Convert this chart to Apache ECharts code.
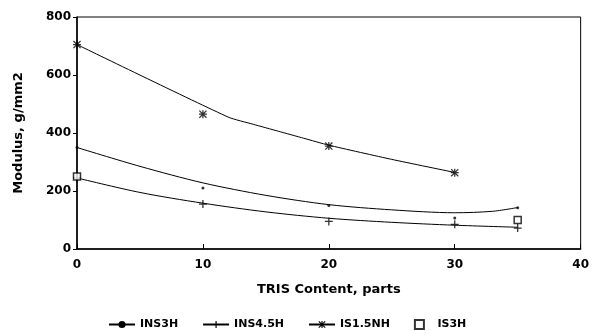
<!DOCTYPE html>
<html>
<head>
<meta charset="utf-8">
<script src="https://cdn.jsdelivr.net/npm/echarts@6/dist/echarts.min.js"></script>
<style>html,body{margin:0;padding:0;background:#fff}#c{width:592px;height:335px}</style>
</head>
<body>
<div id="c"></div>
<script>
// Measured points
const ins3hPts = [[0, 350], [10, 210], [20, 150], [30, 107], [35, 142]];
const ins45hPts = [[0, 245], [10, 155], [20, 95], [30, 85], [35, 72]];
const is15nhPts = [[0, 705], [10, 465], [20, 355], [30, 263]];
const is3hPts = [[0, 250], [35, 100]];
// Fitted curves
const ins3hFit = [[0, 350], [5, 285], [10, 228], [15, 185], [20, 153], [25, 135], [30, 125], [33, 130], [35, 143]];
const ins45hFit = [[0, 245], [5, 195], [10, 158], [15, 128], [20, 106], [25, 92], [30, 82], [35, 75]];
const is15nhFit = [[0, 705], [12, 455], [14, 430], [16, 406], [18, 382], [20, 358], [25, 309], [30, 264]];
const xTicks = [0, 10, 20, 30, 40];
const yTicks = [0, 200, 400, 600, 800];
const seriesNames = ['INS3H', 'INS4.5H', 'IS1.5NH', 'IS3H'];

const FONT = 'DejaVu Sans';
const plusPath = 'path://M4.2,0H5.8V10H4.2ZM0,4.2H10V5.8H0Z';
const starPath = 'path://M4.2,0H5.8V10H4.2ZM0,4.2H10V5.8H0ZM0,1.1L1.1,0L10,8.9L8.9,10ZM8.9,0L10,1.1L1.1,10L0,8.9Z';
const squarePath = 'path://M0,0H10V10H0Z';

const chart = echarts.init(document.getElementById('c'));
const lineBase = {
  type: 'line', showSymbol: false, smooth: 0.3, z: 2,
  lineStyle: { color: '#000', width: 1 }, itemStyle: { color: '#000' }
};
const ptBase = {
  type: 'scatter', itemStyle: { color: '#000' }, z: 3
};
chart.setOption({
  animation: false,
  textStyle: { fontFamily: FONT },
  grid: { left: 77, right: 11, top: 17, bottom: 86, show: true, borderColor: '#000', borderWidth: 1 },
  legend: {
    data: [seriesNames[0], seriesNames[1], seriesNames[2], { name: seriesNames[3], icon: squarePath }],
    top: 319, left: 108, padding: 0,
    itemWidth: 26, itemHeight: 9, itemGap: 24,
    textStyle: { fontFamily: FONT, fontWeight: 'bold', fontSize: 11, color: '#000' }
  },
  xAxis: {
    type: 'value', min: xTicks[0], max: xTicks[xTicks.length - 1], interval: 10,
    name: 'TRIS Content, parts', nameLocation: 'middle', nameGap: 34,
    nameTextStyle: { fontFamily: FONT, fontWeight: 'bold', fontSize: 13, color: '#000' },
    axisLine: { lineStyle: { color: '#000', width: 1.5 } },
    axisTick: { inside: true, length: 5, lineStyle: { color: '#000' } },
    axisLabel: { fontFamily: FONT, fontWeight: 'bold', fontSize: 12, color: '#000', margin: 10 },
    splitLine: { show: false }
  },
  yAxis: {
    type: 'value', min: yTicks[0], max: yTicks[yTicks.length - 1], interval: 200,
    name: 'Modulus, g/mm2', nameLocation: 'middle', nameGap: 52,
    nameTextStyle: { fontFamily: FONT, fontWeight: 'bold', fontSize: 13, color: '#000' },
    axisLine: { show: true, lineStyle: { color: '#000', width: 1.5 } },
    axisTick: { show: true, length: 4, lineStyle: { color: '#000' } },
    axisLabel: { fontFamily: FONT, fontWeight: 'bold', fontSize: 12, color: '#000', margin: 6 },
    splitLine: { show: false }
  },
  series: [
    Object.assign({}, lineBase, { name: 'INS3H', data: ins3hFit, symbol: 'circle', symbolSize: 3 }),
    Object.assign({}, lineBase, { name: 'INS4.5H', data: ins45hFit, symbol: plusPath, symbolSize: 8 }),
    Object.assign({}, lineBase, { name: 'IS1.5NH', data: is15nhFit, symbol: starPath, symbolSize: 9, smooth: 0.2 }),
    Object.assign({}, ptBase, { name: 'INS3H pts', data: ins3hPts, symbol: 'circle', symbolSize: 3 }),
    Object.assign({}, ptBase, { name: 'INS4.5H pts', data: ins45hPts, symbol: plusPath, symbolSize: 8 }),
    Object.assign({}, ptBase, { name: 'IS1.5NH pts', data: is15nhPts, symbol: starPath, symbolSize: 8 }),
    Object.assign({}, ptBase, { name: 'IS3H', data: is3hPts, symbol: 'rect', symbolSize: 7,
      itemStyle: { color: '#fff', borderColor: '#000', borderWidth: 1.5 } })
  ]
});
</script>
</body>
</html>
